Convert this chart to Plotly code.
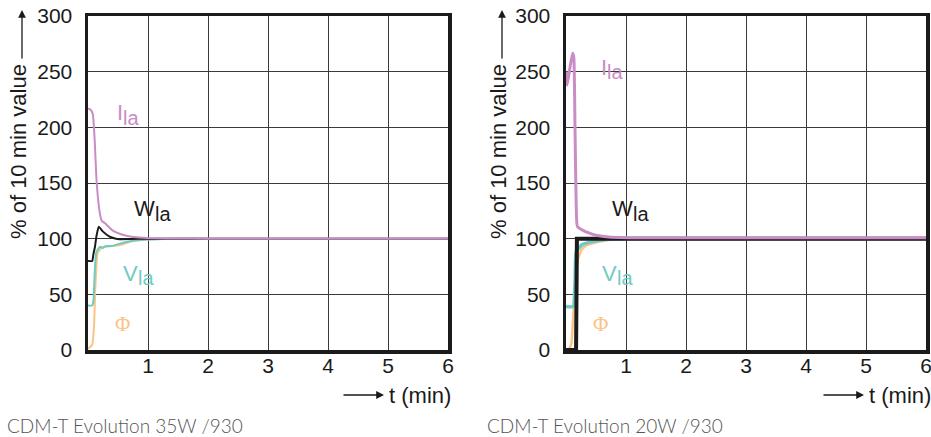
import plotly.graph_objects as go

W, H = 931, 437

def px(x):
    return x / W

def py(y):
    return 1 - y / H

# ---------------- data: CDM-T Evolution 35W /930 (left) ----------------
t_i35 = [0, 0.04, 0.08, 0.11, 0.145, 0.2, 0.23, 0.28, 0.42, 0.55, 0.7, 0.86, 1.0, 1.3, 2, 3, 4, 5, 6]
i35 = [217, 216, 212, 190, 150, 122, 116, 114, 107, 104, 102, 101, 100.5, 100.2, 100, 100, 100, 100, 100]

t_w35 = [0, 0.07, 0.09, 0.117, 0.14, 0.18, 0.25, 0.36, 0.45, 0.53, 0.7, 1.0, 2, 3, 4, 5, 6]
w35 = [80, 80, 86, 93, 102, 110.8, 106.3, 101.8, 100.2, 99.5, 99.6, 100, 100, 100, 100, 100, 100]

t_v35 = [0, 0.07, 0.09, 0.1, 0.12, 0.14, 0.2, 0.25, 0.28, 0.4, 0.5, 0.6, 0.8, 1.0, 1.5, 2, 3, 4, 5, 6]
v35 = [40, 40, 44, 54, 78, 88, 92.8, 91.5, 93, 93.5, 95, 96.5, 98.5, 99.3, 100, 100, 100, 100, 100, 100]

t_f35 = [0, 0.04, 0.07, 0.1, 0.12, 0.14, 0.16, 0.23, 0.3, 0.42, 0.55, 0.7, 0.85, 1.0, 1.5, 2, 3, 4, 5, 6]
f35 = [1, 3, 4.5, 21, 54, 75, 87, 91.9, 93, 93.4, 94.5, 97.3, 98.5, 99.2, 100, 100, 100, 100, 100, 100]

# ---------------- data: CDM-T Evolution 20W /930 (right) ----------------
t_i20 = [0, 0.02, 0.07, 0.11, 0.13, 0.15, 0.17, 0.19, 0.3, 0.4, 0.5, 0.63, 0.9, 1.2, 2, 3, 4, 5, 6]
i20 = [250, 238, 255, 266.5, 263, 200, 130, 111, 107, 104.8, 103, 102, 101, 100.8, 100.8, 100.8, 100.8, 100.8, 100.8]

t_w20 = [0, 0.168, 0.182, 1, 2, 3, 4, 5, 6]
w20 = [0, 0, 100, 100, 100, 100, 100, 100, 100]

t_v20 = [0, 0.12, 0.15, 0.17, 0.26, 0.43, 0.7, 1.0, 2, 3, 4, 5, 6]
v20 = [39, 39, 60, 88, 94.3, 97.3, 99.5, 100, 100, 100, 100, 100, 100]

t_f20 = [0, 0.04, 0.09, 0.11, 0.13, 0.17, 0.2, 0.26, 0.34, 0.56, 0.78, 1.0, 2, 3, 4, 5, 6]
f20 = [0, 0, 6, 21, 39, 70, 82, 90, 94, 97.5, 99.5, 100, 100, 100, 100, 100, 100]

x_ticks = [1, 2, 3, 4, 5, 6]
y_ticks = [0, 50, 100, 150, 200, 250, 300]
captions = ["CDM-T Evolution 35W /930", "CDM-T Evolution 20W /930"]
y_title = "% of 10 min value"
x_title = "t (min)"

PINK = "#c98cc5"
TEAL = "#6fcbc2"
ORANGE = "#fbc386"
BLACK = "#1b1b1b"

fig = go.Figure()

def add(x, y, color, width, axis, spline=True):
    line = dict(color=color, width=width)
    if spline:
        line.update(shape="spline", smoothing=0.4)
    fig.add_trace(go.Scatter(x=x, y=y, mode="lines", line=line,
                             xaxis="x" + axis, yaxis="y" + axis, showlegend=False, hoverinfo="skip"))

add(t_f35, f35, ORANGE, 2, "")
add(t_v35, v35, TEAL, 2, "")
add(t_w35, w35, BLACK, 2, "")
add(t_i35, i35, PINK, 2, "")

add(t_f20, f20, ORANGE, 2.5, "2")
add(t_v20, v20, TEAL, 3.5, "2")
add(t_w20, w20, BLACK, 4, "2", spline=False)
add(t_i20, i20, PINK, 3, "2")

ydom = [py(350), py(16)]
tickfont = dict(family="Liberation Sans, Arial, sans-serif", size=21, color="#1a1a1a")

def xax(dom, anchor):
    return dict(domain=dom, range=[0, 6], tickvals=x_ticks, showgrid=True, gridcolor="#3a3a3a", gridwidth=1,
                showline=True, linecolor=BLACK, linewidth=3.5, mirror=True, zeroline=False, anchor=anchor,
                ticks="", ticklen=0, tickfont=tickfont, ticklabelstandoff=-6, ticklabeloverflow="allow",
                fixedrange=True, automargin=False)

def yax(anchor):
    return dict(domain=ydom, range=[0, 300], tickvals=y_ticks, showgrid=True, gridcolor="#3a3a3a", gridwidth=1,
                showline=True, linecolor=BLACK, linewidth=3.5, mirror=True, zeroline=False,
                ticks="", ticklen=0, tickfont=tickfont, ticklabelstandoff=8, ticklabeloverflow="allow",
                anchor=anchor, fixedrange=True, automargin=False)

fig.update_layout(
    width=W, height=H, margin=dict(l=0, r=0, t=0, b=0, autoexpand=False),
    paper_bgcolor="white", plot_bgcolor="white",
    xaxis=xax([px(88), px(448)], "y"), yaxis=yax("x"),
    xaxis2=xax([px(566), px(926)], "y2"), yaxis2=yax("x2"),
)

ann = []
lab_font = "Liberation Sans, Arial, sans-serif"

def series_label(axis, x, y, base, sub, color, base_w):
    ann.append(dict(xref="x" + axis, yref="y" + axis, x=x, y=y, text=base, showarrow=False, xanchor="left",
                    yanchor="middle", font=dict(family=lab_font, size=22, color=color)))
    ann.append(dict(xref="x" + axis, yref="y" + axis, x=x, y=y, text=sub, showarrow=False, xanchor="left",
                    yanchor="middle", xshift=base_w, yshift=-5, font=dict(family=lab_font, size=20, color=color)))

for axis, off, (ix, iy), (wx, wy), (vx, vy), (fx, fy) in [
    ("", 0, (0.45, 213), (0.74, 127), (0.55, 69), (0.58, 23)),
    ("2", 480, (0.55, 254), (0.73, 127), (0.57, 69), (0.57, 23)),
]:
    series_label(axis, ix, iy, "I", "la", PINK, 6)
    series_label(axis, wx, wy, "W", "la", BLACK, 21)
    series_label(axis, vx, vy, "V", "la", TEAL, 15)
    ann.append(dict(xref="x" + axis, yref="y" + axis, x=fx, y=fy, text="Φ", showarrow=False, xanchor="center",
                    yanchor="middle", font=dict(family="Liberation Serif, serif", size=21, color=ORANGE)))
    # y title
    ann.append(dict(xref="paper", yref="paper", x=px(18 + off), y=py(152), text=y_title, textangle=-90,
                    showarrow=False, xanchor="center", yanchor="middle",
                    font=dict(family=lab_font, size=22, color="#1a1a1a")))
    ann.append(dict(xref="paper", yref="paper", x=px(22 + off), y=py(10), ax=0, ay=50,
                    axref="pixel", ayref="pixel", text="", showarrow=True, arrowhead=2, arrowsize=1.2,
                    arrowwidth=1.3, arrowcolor="#1a1a1a"))
    # x title
    ann.append(dict(xref="paper", yref="paper", x=px(387 + off), y=py(395), text=x_title, showarrow=False,
                    xanchor="left", yanchor="middle", font=dict(family=lab_font, size=22, color="#1a1a1a")))
    ann.append(dict(xref="paper", yref="paper", x=px(384 + off), y=py(395), ax=-42, ay=0,
                    axref="pixel", ayref="pixel", text="", showarrow=True, arrowhead=2, arrowsize=1.2,
                    arrowwidth=1.3, arrowcolor="#1a1a1a"))

for cap, off in zip(captions, [0, 480]):
    ann.append(dict(xref="paper", yref="paper", x=px(5 + off), y=py(425), text=cap, showarrow=False,
                    xanchor="left", yanchor="middle", font=dict(family="Lato, sans-serif", size=19, color="#555555",
                                                                weight=300)))

fig.update_layout(annotations=ann)
fig.write_html("out.html", config={"displayModeBar": False, "staticPlot": True},
               post_script="document.body.style.margin='0';document.body.style.overflow='hidden';")
